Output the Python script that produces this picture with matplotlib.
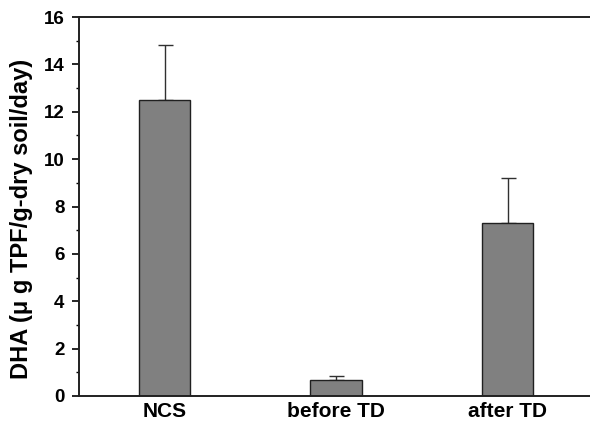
import matplotlib
matplotlib.use("Agg")
import matplotlib.pyplot as plt
from matplotlib.ticker import MultipleLocator

categories = ["NCS", "before TD", "after TD"]
values = [12.5, 0.68, 7.3]
errors = [2.3, 0.18, 1.9]

plt.rcParams['font.family'] = ['Liberation Sans', 'DejaVu Sans']
plt.rcParams['font.weight'] = 'bold'

fig = plt.figure(figsize=(5.9, 4.25), dpi=100)
ax = fig.add_axes([79/590, 29/425, 511/590, 379/425])

x = list(range(len(categories)))
ax.bar(x, values, width=0.3, color='#808080', edgecolor='#202020', linewidth=1.0, zorder=2)
ax.errorbar(x, values, yerr=[[0]*len(errors), errors], fmt='none', ecolor='#303030',
            elinewidth=1.0, capsize=5.4, capthick=1.0, zorder=1)

ax.set_xlim(-0.5, 2.48)
ax.set_ylim(0, 16)
ax.set_xticks(x)
ax.set_xticklabels(categories, fontsize=15, fontweight='bold')
ax.tick_params(axis='x', length=0, pad=4)
ax.yaxis.set_major_locator(MultipleLocator(2))
ax.yaxis.set_minor_locator(MultipleLocator(1))
ax.tick_params(axis='y', which='major', direction='out', length=5, width=1.2, labelsize=13.5, pad=5.5)
ax.tick_params(axis='y', which='minor', direction='out', length=2.5, width=1.0)
for lab in ax.get_yticklabels():
    lab.set_fontweight('bold')

ax.spines['right'].set_visible(False)
for s in ['left', 'top', 'bottom']:
    ax.spines[s].set_linewidth(1.4)
    ax.spines[s].set_color('#202020')

fig.text(22/590, 1 - 219/425, "DHA (\u03bc g TPF/g-dry soil/day)", rotation=90,
         ha='center', va='center', fontsize=17, fontweight='bold')

fig.savefig("out.png", dpi=100)
